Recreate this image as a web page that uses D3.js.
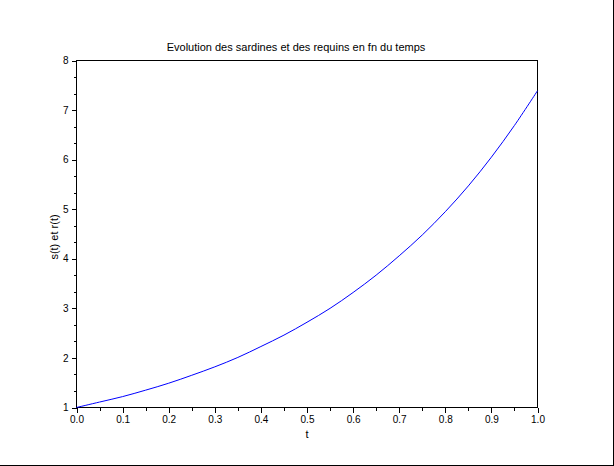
<!DOCTYPE html>
<html><head><meta charset="utf-8">
<script src="https://cdn.jsdelivr.net/npm/d3@7"></script>
<style>
html,body{margin:0;padding:0;background:#fff;}
svg{display:block;}
text{font-family:"Liberation Sans",Arial,sans-serif;font-size:10px;fill:#000;}
</style></head><body>
<svg id="chart" width="614" height="466"></svg>
<script>
// Data
const tValues = [0.00,0.05,0.10,0.15,0.20,0.25,0.30,0.35,0.40,0.45,0.50,0.55,0.60,0.65,0.70,0.75,0.80,0.85,0.90,0.95,1.00];
const sValues = [1.00,1.11,1.22,1.35,1.49,1.65,1.82,2.01,2.23,2.46,2.72,3.00,3.32,3.67,4.06,4.48,4.95,5.47,6.05,6.69,7.39];
const xTickLabels = ["0.0","0.1","0.2","0.3","0.4","0.5","0.6","0.7","0.8","0.9","1.0"];
const yTickLabels = ["1","2","3","4","5","6","7","8"];
const titleText = "Evolution des sardines et des requins en fn du temps";
const xLabelText = "t";
const yLabelText = "s(t) et r(t)";

const svg = d3.select("#chart");
const L = 76, R = 537, T = 60, B = 407;
const x = d3.scaleLinear().domain([0,1]).range([L + 0.5, R + 0.5]);
const y = d3.scaleLinear().domain([1,8]).range([B + 0.5, T + 0.5]);

// outer window border (right and bottom)
svg.append("line").attr("x1",0).attr("x2",614).attr("y1",465.5).attr("y2",465.5).attr("stroke","#000").attr("shape-rendering","crispEdges");
svg.append("line").attr("x1",613.5).attr("x2",613.5).attr("y1",0).attr("y2",466).attr("stroke","#000").attr("shape-rendering","crispEdges");

// plot box
svg.append("rect").attr("x",L+0.5).attr("y",T+0.5).attr("width",R-L).attr("height",B-T)
  .attr("fill","none").attr("stroke","#000").attr("shape-rendering","crispEdges");

// x axis
const xMajor = xTickLabels.map(Number);
const xAxis = d3.axisBottom(x).tickValues(xMajor).tickFormat((d,i)=>xTickLabels[i]).tickSize(5).tickPadding(3);
svg.append("g").attr("transform",`translate(0,${B+0.5})`).call(xAxis);
const xMinor = d3.axisBottom(x).tickValues(xMajor.slice(0,-1).map(v=>v+0.05)).tickFormat("").tickSize(3);
svg.append("g").attr("transform",`translate(0,${B+0.5})`).call(xMinor);

// y axis
const yMajor = yTickLabels.map(Number);
const yAxis = d3.axisLeft(y).tickValues(yMajor).tickFormat((d,i)=>yTickLabels[i]).tickSize(5).tickPadding(3);
svg.append("g").attr("transform",`translate(${L+0.5},0)`).call(yAxis);
const yMinorVals = [];
yMajor.slice(0,-1).forEach(v=>{yMinorVals.push(v+1/3, v+2/3);});
const yMinor = d3.axisLeft(y).tickValues(yMinorVals).tickFormat("").tickSize(3);
svg.append("g").attr("transform",`translate(${L+0.5},0)`).call(yMinor);

svg.selectAll(".domain").remove();
svg.selectAll(".tick line").attr("stroke","#000").attr("shape-rendering","crispEdges");
svg.selectAll(".tick text").attr("font-family","Liberation Sans, Arial, sans-serif").attr("font-size",10).attr("fill","#000");

// curve
const line = d3.line().x((d,i)=>x(tValues[i])).y(d=>y(d)).curve(d3.curveCatmullRom);
svg.append("path").datum(sValues).attr("d",line).attr("fill","none").attr("stroke","#0000ff").attr("stroke-width",1);

// title and labels
svg.append("text").attr("x",296).attr("y",51).attr("text-anchor","middle").style("font-size","11px").text(titleText);
svg.append("text").attr("x",307).attr("y",438).attr("text-anchor","middle").style("font-size","11px").text(xLabelText);
svg.append("text").attr("transform","translate(58,237) rotate(-90)").attr("text-anchor","middle").style("font-size","11px").text(yLabelText);
</script>
</body></html>
